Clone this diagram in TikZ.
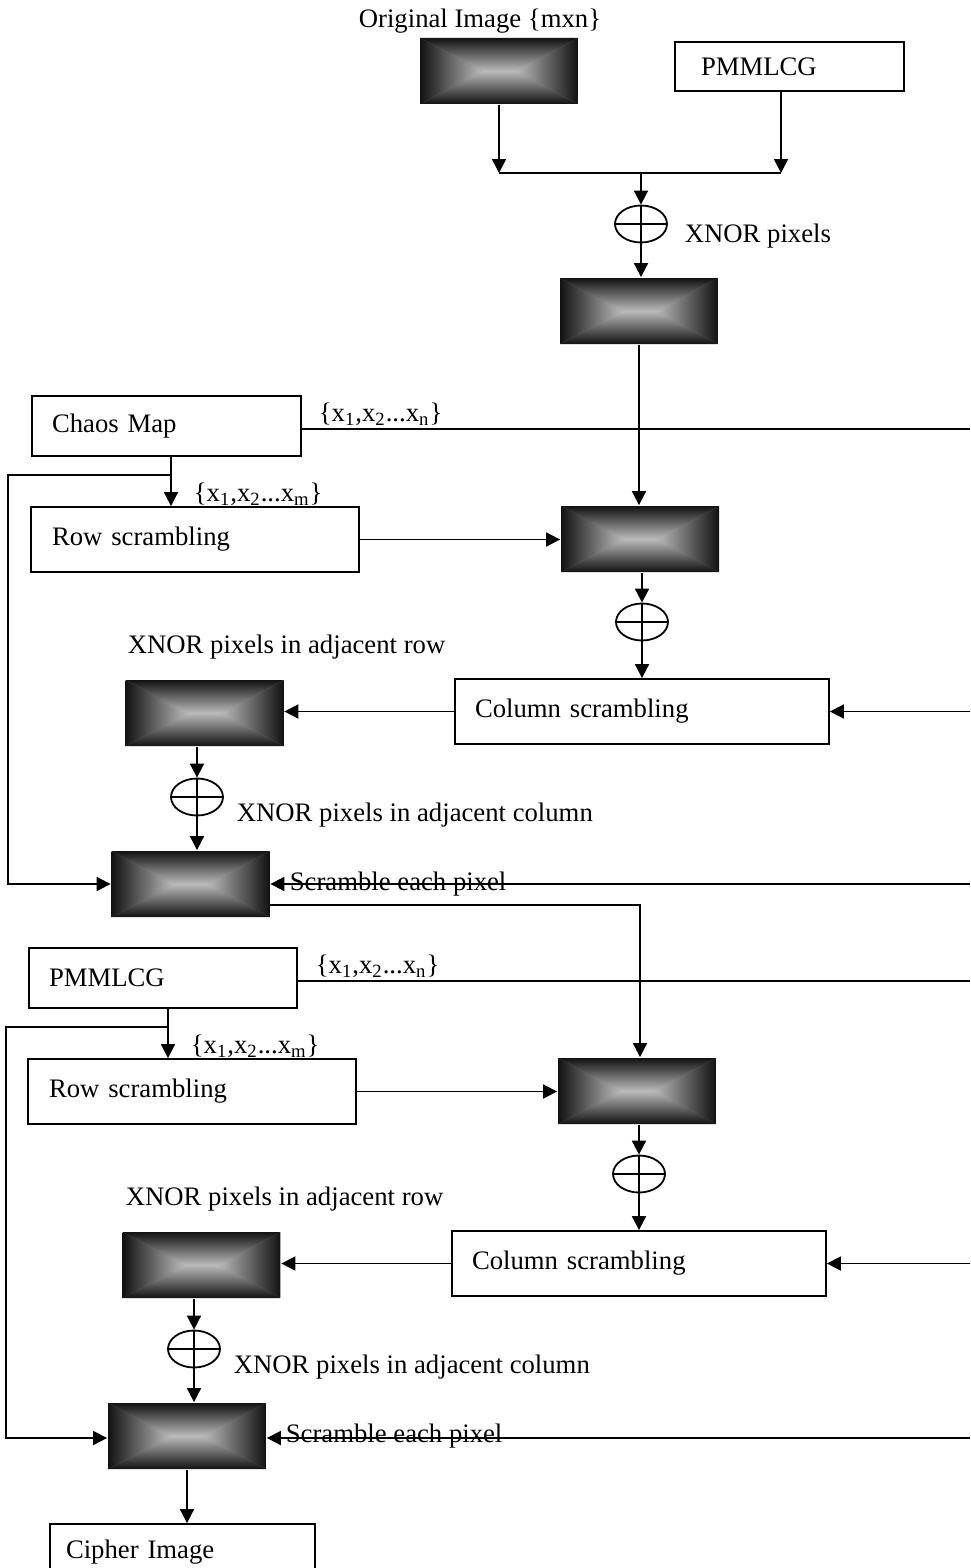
\documentclass[tikz,border=0pt]{standalone}
\usepackage{fontspec}
\setmainfont{Liberation Serif}
\usetikzlibrary{arrows.meta,shapes.geometric,calc}
\definecolor{gedge}{HTML}{121212}
\definecolor{ghalf}{HTML}{868686}
\definecolor{gmid}{HTML}{BABABA}
\begin{document}
\begin{tikzpicture}[x=0.5pt,y=-0.5pt,line width=0.9pt,
  every node/.style={font=\fontsize{13.35}{16}\selectfont},
  arr/.style={-{Triangle[length=7pt,width=7pt]}},
  gbox/.style={rectangle, inner sep=0pt, minimum width=79pt, minimum height=33pt,
    path picture={
      \coordinate (gnw) at (path picture bounding box.north west);
      \coordinate (gne) at (path picture bounding box.north east);
      \coordinate (gsw) at (path picture bounding box.south west);
      \coordinate (gse) at (path picture bounding box.south east);
      \coordinate (gl) at ([xshift=-8.5pt]path picture bounding box.center);
      \coordinate (gr) at ([xshift=8.5pt]path picture bounding box.center);
      \fill[ghalf] (gnw) rectangle (gse);
      \shade[top color=gedge, middle color=ghalf, bottom color=gmid] (gnw) -- (gne) -- (gr) -- (gl) -- cycle;
      \shade[bottom color=gedge, middle color=ghalf, top color=gmid] (gsw) -- (gse) -- (gr) -- (gl) -- cycle;
      \shade[left color=gedge, middle color=ghalf, right color=gmid] (gnw) -- (gl) -- (gsw) -- cycle;
      \shade[right color=gedge, middle color=ghalf, left color=gmid] (gne) -- (gr) -- (gse) -- cycle;
    }},
  xo/.style={ellipse, draw, minimum width=26pt, minimum height=18.5pt, inner sep=0pt,
    path picture={\draw (path picture bounding box.north) -- (path picture bounding box.south)
      (path picture bounding box.west) -- (path picture bounding box.east);}},
  tbox/.style={draw, rectangle, inner ysep=0pt, align=left},
  lbl/.style={inner sep=0pt, anchor=base west}]
\useasboundingbox (0,0) rectangle (970,1568);
\clip (0,0) rectangle (970,1568);
\fill[white] (0,0) rectangle (970,1568);

% ---------- section 1 ----------
\node[gbox] (img0) at (499,71) {};
\node[tbox, text width=88.5pt, inner xsep=13pt, minimum height=24.5pt] (pm1) at (789.5,66.5) {PMMLCG};
\node[xo] (x1) at (641,224) {};
\node[gbox] (img1) at (639,311) {};
\node[tbox, text width=114.5pt, inner xsep=10pt, minimum height=30pt] (chaos) at (166.5,426) {Chaos Map};
\node[tbox, text width=143pt, inner xsep=10.5pt, minimum height=32.5pt] (row1) at (195,539.5) {Row scrambling};
\node[gbox] (img2) at (640,539) {};
\node[xo] (x2) at (642,622) {};
\node[tbox, text width=167pt, inner xsep=10pt, minimum height=32.5pt] (col1) at (642,711.5) {Column scrambling};
\node[gbox] (img3) at (204.5,713) {};
\node[xo] (x3) at (197,797) {};
\node[gbox] (img4) at (190.5,884) {};

% ---------- section 2 ----------
\node[tbox, text width=114pt, inner xsep=10pt, minimum height=30pt] (pm2) at (163,978) {PMMLCG};
\node[tbox, text width=143pt, inner xsep=10.5pt, minimum height=32.5pt] (row2) at (192,1091.5) {Row scrambling};
\node[gbox] (img5) at (637,1091) {};
\node[xo] (x5) at (639,1174) {};
\node[tbox, text width=167pt, inner xsep=10pt, minimum height=32.5pt] (col2) at (639,1263.5) {Column scrambling};
\node[gbox] (img6) at (201.5,1265) {};
\node[xo] (x6) at (194,1349) {};
\node[gbox] (img7) at (187,1436) {};
\node[tbox, text width=116.5pt, inner xsep=8pt, minimum height=28pt] (cipher) at (182.5,1552) {Cipher Image};

% ---------- connectors section 1 ----------
\coordinate (mL) at (499,173);
\coordinate (mR) at (781,173);
\coordinate (mC) at (641,173);
\draw[arr] (img0.south) -- (mL);
\draw[arr] (pm1.south -| mR) -- (mR);
\draw (mL) -- (mR);
\draw[arr] (mC) -- (x1.north);
\draw[arr] (x1.south) -- (x1.south |- img1.north);
\draw[arr] (img1.south) -- (img1.south |- img2.north);
\draw[arr] (img2.south -| x2) -- (x2.north);
\draw[arr] (x2.south) -- (x2.south |- col1.north);
\coordinate (e1) at (970,429);
\draw (chaos.east |- e1) -- (e1);
\coordinate (e2) at (970,711.5);
\draw[arr] (e2) -- (col1.east);
\coordinate (e3) at (970,884);
\draw[arr] (e3) -- (img4.east);
\draw[arr] (col1.west) -- (col1.west -| img3.east);
\draw[arr] (img3.south -| x3) -- (x3.north);
\draw[arr] (x3.south) -- (x3.south |- img4.north);
\coordinate (b1) at (171,475);
\coordinate (f1) at (8,475);
\coordinate (g1) at (8,884);
\draw (chaos.south -| b1) -- (b1);
\draw[arr] (b1) -- (b1 |- row1.north);
\draw[arr] (b1) -- (f1) -- (g1) -- (img4.west);
\draw[arr] (row1.east) -- (row1.east -| img2.west);
\coordinate (o1) at (640,905);
\draw[arr] (img4.east |- o1) -- (o1) -- (o1 |- img5.north);

% ---------- connectors section 2 ----------
\coordinate (e4) at (970,981);
\draw (pm2.east |- e4) -- (e4);
\coordinate (b2) at (168,1027);
\coordinate (f2) at (6,1027);
\coordinate (g2) at (6,1438);
\draw (pm2.south -| b2) -- (b2);
\draw[arr] (b2) -- (b2 |- row2.north);
\draw[arr] (b2) -- (f2) -- (g2) -- (g2 -| img7.west);
\draw[arr] (row2.east) -- (row2.east -| img5.west);
\draw[arr] (img5.south -| x5) -- (x5.north);
\draw[arr] (x5.south) -- (x5.south |- col2.north);
\coordinate (e5) at (970,1263.5);
\draw[arr] (e5) -- (col2.east);
\draw[arr] (col2.west) -- (col2.west -| img6.east);
\draw[arr] (img6.south -| x6) -- (x6.north);
\draw[arr] (x6.south) -- (x6.south |- img7.north);
\coordinate (e6) at (970,1438);
\draw[arr] (e6) -- (e6 -| img7.east);
\draw[arr] (img7.south) -- (img7.south |- cipher.north);

% ---------- labels ----------
\node[lbl] (lt) at (358,28) {Original Image \{mxn\}};
\node[lbl] (lx1) at (684,242) {XNOR pixels};
\node[lbl] (ln1) at (318,421) {\{x\textsubscript{1},x\textsubscript{2}...x\textsubscript{n}\}};
\node[lbl] (lm1) at (193,501) {\{x\textsubscript{1},x\textsubscript{2}...x\textsubscript{m}\}};
\node[lbl] (lr1) at (127,653) {XNOR pixels in adjacent row};
\node[lbl] (lc1) at (236,821) {XNOR pixels in adjacent column};
\node[lbl] (ls1) at (289,890) {Scramble each pixel};
\node[lbl] (ln2) at (315,973) {\{x\textsubscript{1},x\textsubscript{2}...x\textsubscript{n}\}};
\node[lbl] (lm2) at (190,1053) {\{x\textsubscript{1},x\textsubscript{2}...x\textsubscript{m}\}};
\node[lbl] (lr2) at (125,1205) {XNOR pixels in adjacent row};
\node[lbl] (lc2) at (233,1373) {XNOR pixels in adjacent column};
\node[lbl] (ls2) at (285,1442) {Scramble each pixel};
\end{tikzpicture}
\end{document}
